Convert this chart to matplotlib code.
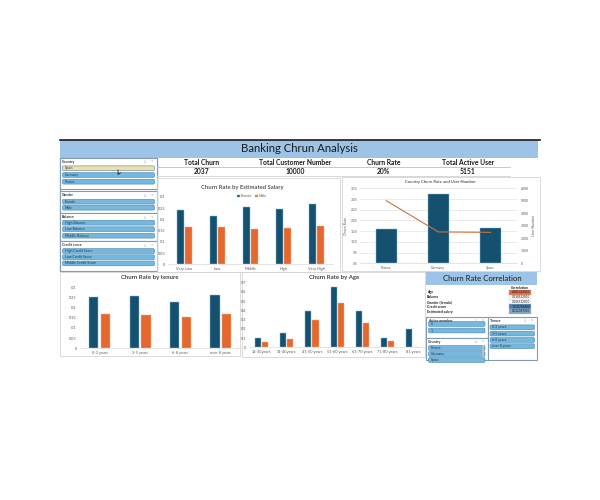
import matplotlib
matplotlib.use('Agg')
import matplotlib.pyplot as plt
from matplotlib.patches import Rectangle, FancyBboxPatch
from matplotlib.colors import LinearSegmentedColormap
import numpy as np

plt.rcParams['font.family'] = ['Lato', 'DejaVu Sans']

# ---------------- data ----------------
dash_title = "Banking Chrun Analysis"
kpi_labels = ["Total Churn", "Total Customer Number", "Churn Rate", "Total Active User"]
kpi_values = ["2037", "10000", "20%", "5151"]

salary_cats = ["Very Low", "Low", "Middle", "High", "Very High"]
salary_female = [0.243, 0.217, 0.254, 0.246, 0.269]
salary_male = [0.166, 0.166, 0.157, 0.162, 0.169]

country_cats = ["France", "Germany", "Spain"]
country_churn = [0.162, 0.324, 0.167]
country_users = [5014, 2509, 2477]

tenure_cats = ["0-2 years", "3-5 years", "6-8 years", "over 8 years"]
tenure_female = [0.254, 0.256, 0.229, 0.262]
tenure_male = [0.170, 0.164, 0.152, 0.169]

age_cats = ["18-30years", "31-40years", "41-50 years", "51-60 years",
            "61-70 years", "71-80 years", "81 years"]
age_female = [0.098, 0.158, 0.390, 0.657, 0.390, 0.098, 0.200]
age_male = [0.057, 0.093, 0.296, 0.480, 0.260, 0.068, 0.0]

corr_labels = ["Age", "Balance", "Gender (female)", "Credit score", "Estimated salary"]
corr_values = [0.285323, 0.118533, 0.106512, -0.027094, 0.012097]

slicer_country = ["Spain", "Germany", "France"]
slicer_gender = ["Female", "Male"]
slicer_balance = ["High Balance", "Low Balance", "Middle Balance"]
slicer_credit = ["High Credit Score", "Low Credit Score", "Middle Credit Score"]
slicer_active = ["0", "1"]
slicer_country2 = ["France", "Germany", "Spain"]
slicer_tenure = ["0-2 years", "3-5 years", "6-8 years", "over 8 years"]

# ---------------- style ----------------
W, H = 600, 500
FEM = '#15506F'
MAL = '#E4682D'
BANNER = '#9DC3E6'
ITEM = '#74B8E0'
TXT = '#404040'

fig = plt.figure(figsize=(6, 5), dpi=100)
fig.patch.set_facecolor('white')

bg = fig.add_axes([0, 0, 1, 1])
bg.set_xlim(0, W)
bg.set_ylim(H, 0)
bg.axis('off')


def px_axes(x0, y0, x1, y1):
    a = fig.add_axes([x0 / W, 1 - y1 / H, (x1 - x0) / W, (y1 - y0) / H])
    a.set_facecolor('none')
    return a


def panel(x0, y0, x1, y1, ec='#D4D4D4', lw=0.6):
    bg.add_patch(Rectangle((x0, y0), x1 - x0, y1 - y0, fill=False, ec=ec, lw=lw))


def slicer(x0, y0, x1, y1, header, items, first, step, hl=None):
    bg.add_patch(Rectangle((x0, y0), x1 - x0, y1 - y0, fc='white', ec='#7F9BB5', lw=0.8))
    bg.text(x0 + 2, y0 + 4.2, header, fontsize=2.6, weight='bold', va='center', color='#333333')
    bg.text(x1 - 13, y0 + 4.2, '\u2261', fontsize=2.6, va='center', color='#999999')
    bg.text(x1 - 6, y0 + 4.2, '\u2715', fontsize=2.2, va='center', color='#999999')
    for i, it in enumerate(items):
        yc = first + i * step
        fc = '#F3DDA9' if hl == i else ITEM
        bg.add_patch(FancyBboxPatch((x0 + 2.5, yc - 2.4), x1 - x0 - 5, 4.8,
                                    boxstyle='round,pad=0,rounding_size=1.2',
                                    fc=fc, ec='#4D86AE', lw=0.4))
        bg.text(x0 + 5, yc, it, fontsize=2.5, va='center', color='#1C3A52')


def style_bar_axes(a, ymax, ticks, fmt):
    a.set_ylim(0, ymax)
    a.set_yticks(ticks)
    a.set_yticklabels([fmt(t) for t in ticks])
    for s in ['top', 'right', 'left']:
        a.spines[s].set_visible(False)
    a.spines['bottom'].set_color('#D9D9D9')
    a.spines['bottom'].set_linewidth(0.5)
    a.tick_params(length=0, labelsize=2.8, colors='#595959', pad=2)


def num_fmt(t):
    s = ('%g' % t)
    return s


def grouped(a, cats, f, m, width, gap):
    x = np.arange(len(cats))
    a.bar(x - (width + gap) / 2, f, width, color=FEM, edgecolor='#86BCDB', linewidth=0.35)
    a.bar(x + (width + gap) / 2, m, width, color=MAL, edgecolor='#F2B08A', linewidth=0.35)
    a.set_xticks(x)
    a.set_xticklabels(cats)
    a.set_xlim(-0.5, len(cats) - 0.5)
    return x


# ---------------- banner ----------------
bg.plot([60, 540], [139.5, 139.5], color='#1A1A1A', lw=1.2)
bg.add_patch(Rectangle((60, 140), 478, 17.5, fc=BANNER, ec='none'))
bg.text(299, 148.8, dash_title, fontsize=8.2, ha='center', va='center', color='#1A1A1A')

# ---------------- KPI ----------------
kpi_x = [202, 295, 383.5, 468]
for xk, lab, val in zip(kpi_x, kpi_labels, kpi_values):
    bg.text(xk, 162.5, lab, fontsize=4.9, weight='bold', ha='center', va='center', color='#1A1A1A')
    bg.text(xk, 171.7, val, fontsize=4.9, weight='bold', ha='center', va='center', color='#1A1A1A')
bg.plot([157, 510], [167, 167], color='#BFBFBF', lw=0.6)
bg.plot([157, 510], [176, 176], color='#D0D0D0', lw=0.6)

# ---------------- left slicers ----------------
bg.add_patch(Rectangle((60, 157.5), 97, 113, fc='white', ec='#7F9BB5', lw=0.9))
slicer(60, 157.5, 157, 189, "Country", slicer_country, 168.3, 6.7, hl=0)
slicer(60, 191, 157, 213, "Gender", slicer_gender, 201.7, 6.0)
slicer(60, 213, 157, 241, "Balance", slicer_balance, 222.7, 6.5)
slicer(60, 241, 157, 270.5, "Credit score", slicer_credit, 251, 6.2)
bg.plot([118, 118, 120.5], [170, 174.5, 172.8], color='#222222', lw=0.6)

# ---------------- salary chart ----------------
panel(157, 178, 340, 272)
bg.text(242, 187.7, "Churn Rate by Estimated Salary", fontsize=4.2, weight='bold',
        ha='center', va='center', color='#595959')
ax1 = px_axes(168, 197, 333, 264.3)
grouped(ax1, salary_cats, salary_female, salary_male, 0.21, 0.05)
style_bar_axes(ax1, 0.3, [0, 0.05, 0.1, 0.15, 0.2, 0.25, 0.3], num_fmt)
ax1.legend(['Female', 'Male'], loc='center', bbox_to_anchor=(0.51, 1.01), ncol=2,
           frameon=False, fontsize=2.6, handlelength=0.7, handleheight=0.7,
           handletextpad=0.3, columnspacing=0.8, labelcolor='#595959')

# ---------------- country chart ----------------
panel(342, 177, 540, 270.5)
bg.text(440, 182.3, "Country Churn Rate and User Number", fontsize=3.0, weight='bold',
        ha='center', va='center', color='#595959')
ax2 = px_axes(360, 188.3, 516.7, 263.3)
xc = np.arange(len(country_cats))
ax2.bar(xc, country_churn, 0.4, color=FEM, edgecolor='#86BCDB', linewidth=0.35, zorder=2)
ax2.set_xlim(-0.5, 2.5)
ax2.set_ylim(0, 0.35)
yt = np.arange(0, 0.351, 0.05)
ax2.set_yticks(yt)
ax2.set_yticklabels(['%d%%' % round(v * 100) for v in yt])
ax2.set_xticks(xc)
ax2.set_xticklabels(country_cats)
ax2.grid(axis='y', color='#E3E3E3', lw=0.5, zorder=0)
ax2.set_axisbelow(True)
for s in ['top', 'right', 'left']:
    ax2.spines[s].set_visible(False)
ax2.spines['bottom'].set_color('#D9D9D9')
ax2.spines['bottom'].set_linewidth(0.5)
ax2.tick_params(length=0, labelsize=2.5, colors='#595959', pad=2)
ax2.set_ylabel("Churn Rate", fontsize=2.6, color='#595959', labelpad=2)
ax2t = ax2.twinx()
ax2t.plot(xc, country_users, color='#C8733F', lw=0.8)
ax2t.set_ylim(0, 6000)
ax2t.set_yticks(np.arange(0, 6001, 1000))
for s in ax2t.spines.values():
    s.set_visible(False)
ax2t.tick_params(length=0, labelsize=2.5, colors='#595959', pad=3)
ax2t.set_ylabel("User Number", fontsize=2.6, color='#595959', labelpad=2)

# ---------------- tenure chart ----------------
panel(60, 272, 240, 356)
bg.text(150, 277.3, "Churn Rate by tenure", fontsize=4.3, weight='bold',
        ha='center', va='center', color='#404040')
ax3 = px_axes(79.5, 287.3, 241, 348.3)
grouped(ax3, tenure_cats, tenure_female, tenure_male, 0.23, 0.06)
style_bar_axes(ax3, 0.3, [0, 0.05, 0.1, 0.15, 0.2, 0.25, 0.3], num_fmt)

# ---------------- age chart ----------------
panel(242, 272, 425, 357)
bg.text(334, 277.3, "Churn Rate by Age", fontsize=4.3, weight='bold',
        ha='center', va='center', color='#404040')
ax4 = px_axes(249, 282.7, 425.3, 347.3)
grouped(ax4, age_cats, age_female, age_male, 0.24, 0.04)
style_bar_axes(ax4, 0.7, [0, 0.1, 0.2, 0.3, 0.4, 0.5, 0.6, 0.7], num_fmt)

# ---------------- correlation ----------------
bg.add_patch(Rectangle((426, 271.7), 111, 12.8, fc=BANNER, ec='none'))
bg.text(482.5, 278.2, "Churn Rate Correlation", fontsize=5.6, ha='center', va='center',
        color='#1A1A1A')
bg.text(519.5, 288.4, "Correlation", fontsize=2.5, weight='bold', ha='center',
        va='center', color='#1A1A1A')
cmap = LinearSegmentedColormap.from_list('c', ['#4F80AC', '#FFFFFF', '#E3693F'])
vmin, vmid, vmax = min(corr_values), float(np.median(corr_values)), max(corr_values)
for i, (lab, v) in enumerate(zip(corr_labels, corr_values)):
    yc = 292.3 + i * 4.8
    if v <= vmid:
        t = 0.5 * (v - vmin) / (vmid - vmin)
    else:
        t = 0.5 + 0.5 * (v - vmid) / (vmax - vmid)
    bg.add_patch(Rectangle((509, yc - 2.3), 22, 4.6, fc=cmap(t), ec='#BFBFBF', lw=0.2))
    bg.text(427, yc, lab, fontsize=2.5, weight='bold', va='center', color='#1A1A1A')
    bg.text(530.5, yc, '%.9f' % v if v >= 0 else '%.8f' % v, fontsize=2.2,
            ha='right', va='center', color='#1A1A1A')

slicer(426, 316.5, 487.5, 337.5, "Active member", slicer_active, 324, 6.5)
slicer(426, 337.5, 487.5, 360, "Country", slicer_country2, 348, 6.0)
bg.add_patch(Rectangle((482, 344.5), 1.5, 12, fc='#BDBDBD', ec='none'))
slicer(487.5, 316.5, 537, 360, "Tenure", slicer_tenure, 327.3, 6.3)

fig.savefig('out.png', dpi=100, facecolor='white')
